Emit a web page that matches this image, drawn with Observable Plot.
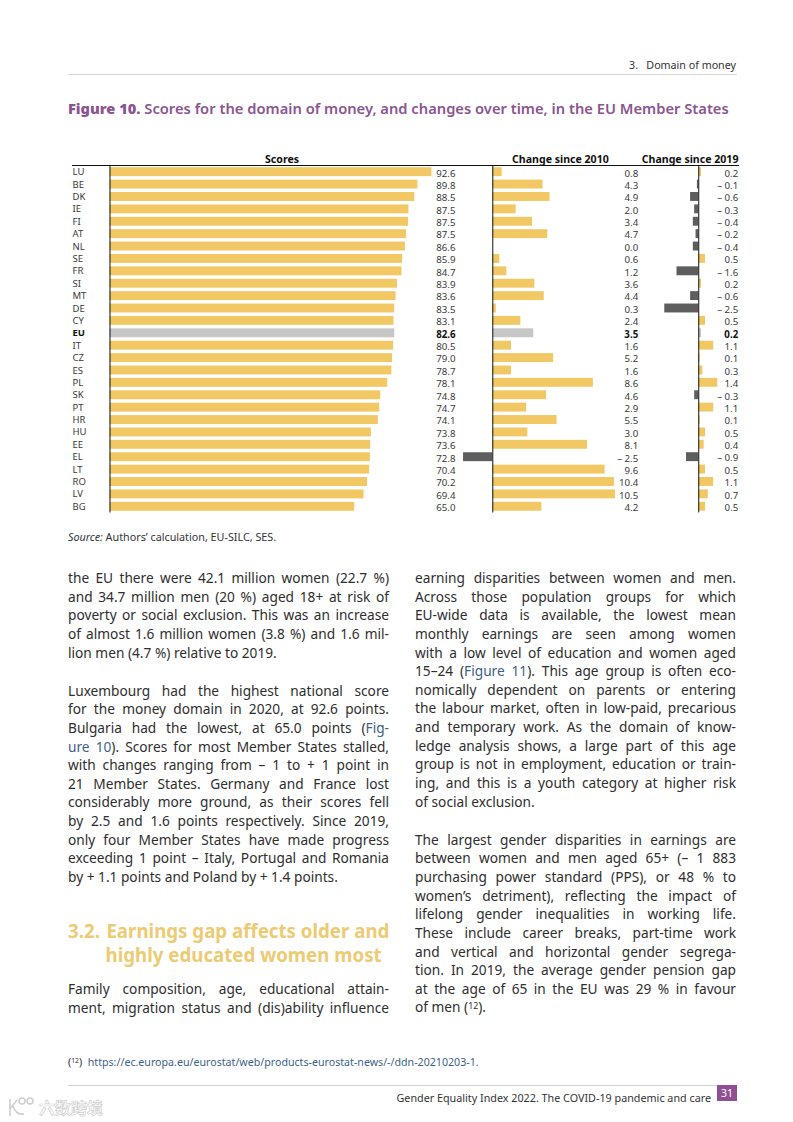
<!DOCTYPE html>
<html><head><meta charset="utf-8">
<script src="https://cdn.jsdelivr.net/npm/d3@7"></script>
<script src="https://cdn.jsdelivr.net/npm/@observablehq/plot@0.6"></script>
<style>
html,body{margin:0;padding:0;background:#fff}
#page{position:relative;width:793px;height:1122px;overflow:hidden;font-family:"Noto Sans",sans-serif;color:#2b2b2b}
.abs{position:absolute;white-space:nowrap}
.panel{position:absolute;top:145px}
.panel svg{overflow:visible;display:block;background:transparent}
.col{position:absolute;width:321px;font-size:13.7px;line-height:18.65px;color:#2e2e2e}
.col div{white-space:nowrap;text-align:justify;text-align-last:justify;height:18.65px}
.col div.end{text-align-last:left}
.col div.gap{height:19.4px}
a{color:#3d5f8a;text-decoration:none}
sup{font-size:64%;line-height:0;vertical-align:baseline;position:relative;top:-0.45em}
</style></head>
<body><div id="page">
<div class="abs" style="right:57px;top:58px;font-size:10.7px;color:#333">3.&nbsp;&nbsp;&nbsp;Domain of money</div>
<div class="abs" style="left:68px;top:74px;width:669px;height:1px;background:#ddd3dd"></div>
<div class="abs" style="left:68px;top:98px;font-size:14.73px;font-weight:600;color:#8a5590"><b style="font-size:14.6px">Figure 10.</b> Scores for the domain of money, and changes over time, in the EU Member States</div>
<div class="abs" style="left:72px;top:164.5px;width:667px;height:1.4px;background:#111"></div>
<div id="a" class="panel" style="left:68px"></div>
<div id="b" class="panel" style="left:460px"></div>
<div id="c" class="panel" style="left:650px"></div>
<div class="abs" style="left:68px;top:528.5px;font-size:10.77px;color:#333"><i>Source:</i> Authors’ calculation, EU-SILC, SES.</div>

<div class="col" style="left:68px;top:569px">
<div>the EU there were 42.1 million women (22.7 %)</div>
<div>and 34.7 million men (20 %) aged 18+ at risk of</div>
<div>poverty or social exclusion. This was an increase</div>
<div>of almost 1.6 million women (3.8 %) and 1.6 mil-</div>
<div class="end">lion men (4.7 %) relative to 2019.</div>
<div class="gap"></div>
<div>Luxembourg had the highest national score</div>
<div>for the money domain in 2020, at 92.6 points.</div>
<div>Bulgaria had the lowest, at 65.0 points (<a>Fig-</a></div>
<div><a>ure 10</a>). Scores for most Member States stalled,</div>
<div>with changes ranging from – 1 to + 1 point in</div>
<div>21 Member States. Germany and France lost</div>
<div>considerably more ground, as their scores fell</div>
<div>by 2.5 and 1.6 points respectively. Since 2019,</div>
<div>only four Member States have made progress</div>
<div>exceeding 1 point – Italy, Portugal and Romania</div>
<div class="end">by + 1.1 points and Poland by + 1.4 points.</div>
</div>
<div class="abs" style="left:68px;top:918.5px;font-size:18.7px;line-height:24px;font-weight:700;color:#eccb73">3.2.<span style="display:inline-block;width:6.5px"></span>Earnings gap affects older and<br><span style="display:inline-block;width:37.5px"></span>highly educated women most</div>
<div class="col" style="left:68px;top:980px">
<div>Family composition, age, educational attain-</div>
<div>ment, migration status and (dis)ability influence</div>
</div>

<div class="col" style="left:415px;top:569px">
<div>earning disparities between women and men.</div>
<div>Across those population groups for which</div>
<div>EU-wide data is available, the lowest mean</div>
<div>monthly earnings are seen among women</div>
<div>with a low level of education and women aged</div>
<div>15–24 (<a>Figure 11</a>). This age group is often eco-</div>
<div>nomically dependent on parents or entering</div>
<div>the labour market, often in low-paid, precarious</div>
<div>and temporary work. As the domain of know-</div>
<div>ledge analysis shows, a large part of this age</div>
<div>group is not in employment, education or train-</div>
<div>ing, and this is a youth category at higher risk</div>
<div class="end">of social exclusion.</div>
<div class="gap"></div>
<div>The largest gender disparities in earnings are</div>
<div>between women and men aged 65+ (– 1 883</div>
<div>purchasing power standard (PPS), or 48 % to</div>
<div>women’s detriment), reflecting the impact of</div>
<div>lifelong gender inequalities in working life.</div>
<div>These include career breaks, part-time work</div>
<div>and vertical and horizontal gender segrega-</div>
<div>tion. In 2019, the average gender pension gap</div>
<div>at the age of 65 in the EU was 29 % in favour</div>
<div class="end">of men (<sup>12</sup>).</div>
</div>

<div class="abs" style="left:68px;top:1055px;font-size:10.65px;color:#333">(<sup>12</sup>)&nbsp; <a>https://ec.europa.eu/eurostat/web/products-eurostat-news/-/ddn-20210203-1.</a></div>
<div class="abs" style="left:68px;top:1085px;width:669px;height:1px;background:#cfcfcf"></div>
<div class="abs" style="right:82px;top:1089.5px;font-size:10.78px;color:#333">Gender Equality Index 2022. The COVID-19 pandemic and care</div>
<div class="abs" style="left:717px;top:1085px;width:20px;height:16px;background:#8f4f93;color:#fff;font-size:10.5px;line-height:16px;text-align:center">31</div>
<svg class="abs" style="left:7px;top:1095px" width="30" height="24" fill="none" stroke="#cfcfcf" stroke-width="1.6"><path d="M3 4V21M3 14L10 5M6 11C8 17 11 20 17 19"/><circle cx="15" cy="6" r="3"/><circle cx="23" cy="6" r="3"/></svg>
<div class="abs" style="left:39px;top:1095px;font-family:'Noto Sans CJK SC';font-size:16px;font-weight:700;color:#fff;-webkit-text-stroke:0.7px #cfcfcf">六数跨境</div>
</div>
<script>
const codes = ["LU","BE","DK","IE","FI","AT","NL","SE","FR","SI","MT","DE","CY","EU","IT","CZ","ES","PL","SK","PT","HR","HU","EE","EL","LT","RO","LV","BG"];
const scoreLabels = ["92.6","89.8","88.5","87.5","87.5","87.5","86.6","85.9","84.7","83.9","83.6","83.5","83.1","82.6","80.5","79.0","78.7","78.1","74.8","74.7","74.1","73.8","73.6","72.8","70.4","70.2","69.4","65.0"];
// The printed bars are not the same lengths as the printed scores: lengths as drawn.
const scoreBars = [92.6,88.6,87.7,86.0,85.9,85.3,85.0,84.2,84.0,82.7,82.3,81.9,81.7,81.9,81.6,81.3,81.1,79.9,77.9,77.6,77.2,75.2,75.0,74.9,74.7,74.1,73.1,70.4];
const change2010 = [0.8,4.3,4.9,2.0,3.4,4.7,0.0,0.6,1.2,3.6,4.4,0.3,2.4,3.5,1.6,5.2,1.6,8.6,4.6,2.9,5.5,3.0,8.1,-2.5,9.6,10.4,10.5,4.2];
const change2019 = [0.2,-0.1,-0.6,-0.3,-0.4,-0.2,-0.4,0.5,-1.6,0.2,-0.6,-2.5,0.5,0.2,1.1,0.1,0.3,1.4,-0.3,1.1,0.1,0.5,0.4,-0.9,0.5,1.1,0.7,0.5];
const titles = ["Scores","Change since 2010","Change since 2019"];

const fmt = v => (v < 0 ? "– " + Math.abs(v).toFixed(1) : v.toFixed(1));
const rows = codes.map((code,i)=>({code,eu:code==="EU",
  bar:scoreBars[i],label:scoreLabels[i],c10:change2010[i],c19:change2019[i],
  l10:fmt(change2010[i]),l19:fmt(change2019[i])}));
const kind = (d,k)=> d.eu ? "eu" : (d[k] < 0 ? "down" : "up");

function panel(id,{k,lab,domain,width,marginLeft,title,titleAnchor,titleDx,firstPanel}){
  const common = {y:"code"};
  const txt = {fontSize:9.7,fill:"#3a3a3a",frameAnchor:"right",textAnchor:"end",dy:1.2,fontFamily:"Noto Sans"};
  const marks = [
    Plot.barX(rows,{x1:0,x2:k,y:"code",fill:d=>kind(d,k)}),
    Plot.ruleX([0],{stroke:"#111",strokeWidth:1}),
    Plot.text(rows.filter(d=>!d.eu),{...common,text:lab,...txt}),
    Plot.text(rows.filter(d=>d.eu),{...common,text:lab,...txt,fill:"#111",fontWeight:"bold"}),
    Plot.text([title],{text:d=>d,frameAnchor:"top-"+titleAnchor,textAnchor:titleAnchor==="right"?"end":"middle",dy:-11,dx:titleDx,fontSize:10.6,fontWeight:"bold",fill:"#111",fontFamily:"Noto Sans"})
  ];
  if(firstPanel){
    const ax = {tickSize:0,textAnchor:"start",dx:-28.5,label:null,fontSize:9.5,fontFamily:"Noto Sans"};
    marks.push(Plot.axisY(codes.filter(c=>c!=="EU"),{...ax,fill:"#3a3a3a"}));
    marks.push(Plot.axisY(["EU"],{...ax,fill:"#111",fontWeight:"bold"}));
  }
  const svg = Plot.plot({
    width,height:369,marginTop:20.5,marginBottom:1.5,marginLeft,marginRight:0,
    style:{background:"transparent",overflow:"visible",fontFamily:"Noto Sans"},
    x:{domain,axis:null},
    y:{domain:codes,round:false,paddingInner:0.28,paddingOuter:0.14,axis:null},
    color:{domain:["up","down","eu"],range:["#f2c864","#5e5e5e","#c6c6c6"]},
    marks
  });
  document.getElementById(id).appendChild(svg);
}
panel("a",{k:"bar",lab:"label",domain:[0,99.4],width:387,marginLeft:41.5,title:titles[0],titleAnchor:"left",titleDx:172,firstPanel:true});
panel("b",{k:"c10",lab:"l10",domain:[-2.76,12.43],width:177.7,marginLeft:0,title:titles[1],titleAnchor:"right",titleDx:-29.4});
panel("c",{k:"c19",lab:"l19",domain:[-3.55,2.9],width:87.7,marginLeft:0,title:titles[2],titleAnchor:"right",titleDx:0.3});
</script>
</body></html>
